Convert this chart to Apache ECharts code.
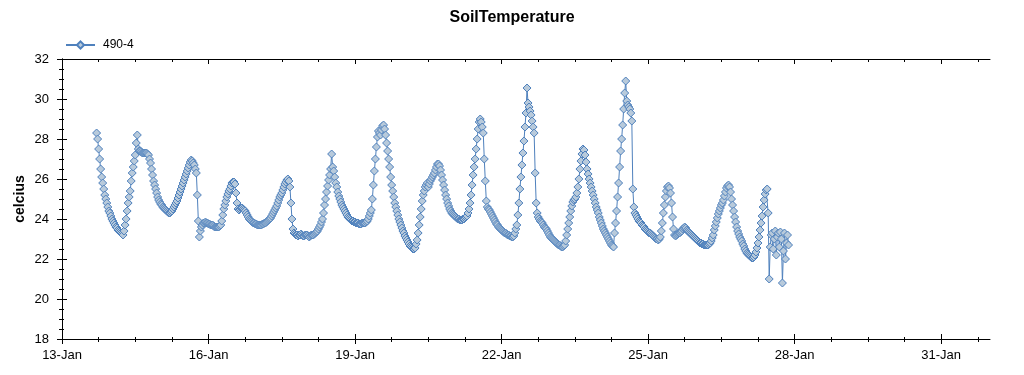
<!DOCTYPE html>
<html><head><meta charset="utf-8">
<script src="https://cdn.jsdelivr.net/npm/echarts@6/dist/echarts.min.js"></script>
<style>html,body{margin:0;padding:0;background:#fff}#c{width:1024px;height:375px}</style>
</head><body><div id="c"></div>
<script>
const chartTitle = 'SoilTemperature';
const seriesName = '490-4';
const yAxisName = 'celcius';
const xTickLabels = ['13-Jan','16-Jan','19-Jan','22-Jan','25-Jan','28-Jan','31-Jan'];
const yTickLabels = ['18','20','22','24','26','28','30','32'];
// readings every 30 minutes, first one at 13-Jan 17:00
const startHour = 17;
const stepMinutes = 30;
const temps = [
28.3,28.0,27.5,27.0,26.5,26.1,25.8,25.5,25.2,25.0,24.8,24.6,24.4,24.3,24.15,24.0,23.9,23.8,23.7,23.6,23.55,23.45,23.4,23.35,
23.3,23.25,23.2,23.4,23.7,24.0,24.4,24.8,25.1,25.4,25.9,26.3,26.6,26.9,27.2,27.8,28.2,27.5,27.4,27.4,27.35,27.3,27.3,27.3,
27.3,27.3,27.25,27.2,27.0,26.8,26.5,26.2,25.9,25.7,25.5,25.3,25.1,24.95,24.85,24.75,24.7,24.6,24.55,24.5,24.45,24.4,24.35,24.3,
24.3,24.35,24.4,24.5,24.6,24.7,24.8,24.9,25.05,25.2,25.35,25.5,25.65,25.8,25.95,26.1,26.25,26.4,26.55,26.7,26.85,26.95,26.9,26.8,
26.7,26.5,26.3,25.2,23.9,23.1,23.4,23.6,23.7,23.8,23.8,23.85,23.8,23.8,23.75,23.75,23.7,23.7,23.7,23.65,23.6,23.6,23.6,23.6,
23.6,23.65,23.7,23.9,24.2,24.5,24.7,24.9,25.1,25.25,25.4,25.5,25.65,25.8,25.85,25.85,25.75,25.3,24.8,24.5,24.45,24.5,24.55,24.55,
24.5,24.45,24.4,24.3,24.2,24.1,24.0,23.95,23.9,23.85,23.8,23.8,23.75,23.75,23.7,23.7,23.7,23.7,23.7,23.75,23.75,23.8,23.8,23.85,
23.9,23.95,24.0,24.05,24.15,24.25,24.35,24.45,24.55,24.65,24.8,24.95,25.1,25.2,25.3,25.45,25.6,25.75,25.85,25.95,26.0,25.9,25.6,24.8,
24.0,23.5,23.3,23.25,23.2,23.2,23.15,23.2,23.2,23.25,23.2,23.15,23.15,23.2,23.2,23.2,23.15,23.1,23.15,23.2,23.2,23.2,23.25,23.3,
23.35,23.4,23.5,23.6,23.7,23.85,24.0,24.3,24.7,25.0,25.35,25.65,25.95,26.2,26.5,27.25,26.6,26.4,26.1,25.8,25.6,25.35,25.15,25.0,
24.85,24.7,24.6,24.5,24.4,24.3,24.2,24.1,24.05,24.0,23.95,23.9,23.9,23.85,23.85,23.8,23.8,23.8,23.75,23.75,23.75,23.8,23.8,23.8,
23.8,23.85,23.9,24.0,24.15,24.3,24.45,25.0,25.7,26.4,27.0,27.6,28.1,28.4,28.3,28.2,28.45,28.65,28.7,28.5,28.2,27.8,27.4,27.0,
26.6,26.1,25.7,25.4,25.1,24.8,24.6,24.4,24.2,24.0,23.85,23.7,23.55,23.4,23.3,23.15,23.05,22.95,22.85,22.75,22.65,22.6,22.55,22.5,
22.5,22.55,22.75,22.95,23.3,23.7,24.1,24.5,24.9,25.2,25.4,25.6,25.7,25.8,25.6,25.75,25.9,26.0,26.1,26.2,26.3,26.45,26.6,26.75,
26.75,26.65,26.45,26.2,25.95,25.7,25.45,25.2,25.0,24.8,24.65,24.5,24.4,24.3,24.25,24.2,24.15,24.1,24.05,24.0,24.0,23.95,23.95,23.95,
24.0,24.0,24.05,24.1,24.15,24.3,24.5,24.8,25.2,25.7,26.2,26.6,27.0,27.5,28.0,28.5,28.85,29.0,28.85,28.6,28.3,27.0,25.9,24.9,
24.6,24.5,24.45,24.35,24.25,24.15,24.05,23.95,23.85,23.75,23.7,23.6,23.55,23.5,23.45,23.4,23.35,23.3,23.3,23.25,23.2,23.2,23.15,23.15,
23.1,23.1,23.15,23.3,23.5,23.7,24.2,24.8,25.5,26.1,26.7,27.3,27.9,28.6,29.3,30.55,29.8,29.6,29.4,29.2,28.9,28.6,28.3,26.3,
24.8,24.3,24.1,24.0,23.9,23.85,23.8,23.7,23.6,23.55,23.5,23.4,23.3,23.2,23.1,23.05,23.0,22.95,22.9,22.85,22.8,22.75,22.7,22.7,
22.65,22.6,22.6,22.65,22.7,22.9,23.2,23.5,23.8,24.1,24.4,24.65,24.85,24.95,25.0,25.1,25.3,25.6,26.0,26.5,26.9,27.25,27.5,27.45,
27.2,26.85,26.5,26.25,26.0,25.8,25.6,25.4,25.2,25.0,24.8,24.6,24.45,24.3,24.1,23.95,23.8,23.65,23.5,23.4,23.3,23.2,23.1,23.0,
22.9,22.8,22.7,22.65,22.6,23.3,23.8,24.4,25.1,25.8,26.6,27.4,28.0,28.7,29.5,30.3,30.9,29.9,29.7,29.6,29.5,29.3,28.9,25.5,
24.6,24.3,24.2,24.1,24.0,23.9,23.85,23.8,23.7,23.65,23.6,23.5,23.45,23.4,23.35,23.3,23.3,23.25,23.2,23.15,23.1,23.05,23.0,23.0,
22.95,23.0,23.1,23.4,23.8,24.3,24.7,25.1,25.4,25.6,25.65,25.55,25.3,24.8,24.1,23.5,23.2,23.15,23.2,23.25,23.3,23.3,23.35,23.4,
23.5,23.55,23.6,23.55,23.45,23.4,23.35,23.3,23.25,23.2,23.15,23.1,23.05,23.0,22.95,22.9,22.85,22.8,22.8,22.75,22.75,22.7,22.7,22.7,
22.7,22.7,22.75,22.8,22.9,23.05,23.2,23.45,23.65,23.85,24.05,24.25,24.4,24.55,24.7,24.8,24.95,25.15,25.35,25.55,25.65,25.7,25.6,25.35,
25.0,24.7,24.4,24.1,23.85,23.6,23.4,23.25,23.1,23.0,22.9,22.75,22.65,22.5,22.4,22.3,22.25,22.2,22.15,22.1,22.05,22.05,22.1,22.2,
22.35,22.55,22.8,23.1,23.45,23.8,24.15,24.6,24.95,25.25,25.45,25.5,24.3,21.0,22.6,23.2,23.3,22.5,23.0,23.4,22.2,23.1,23.3,22.6,
23.35,23.0,20.8,22.4,23.3,22.0,22.8,23.2,22.7
];

// x = days since 13-Jan 00:00
const X_MIN = 0, X_MAX = 19, X_STEP = 3, X_MINOR = 0.75;
const Y_MIN = 18, Y_MAX = 32, Y_STEP = 2, Y_MINOR = 0.5;
const FONT = 'Liberation Sans, Arial, sans-serif';

const seriesData = temps.map((v, i) => [(startHour + i * stepMinutes / 60) / 24, v]);

const xMajor = xTickLabels.map((_, i) => X_MIN + i * X_STEP);
const xMinorVals = [];
for (let k = 1; k * X_MINOR < X_MAX; k++) { const v = k * X_MINOR; if (Math.abs(v / X_STEP - Math.round(v / X_STEP)) > 1e-9) xMinorVals.push(v); }
const yMajor = yTickLabels.map(Number);
const yMinorVals = [];
for (let k = 1; Y_MIN + k * Y_MINOR < Y_MAX; k++) { const v = Y_MIN + k * Y_MINOR; if (Math.abs((v - Y_MIN) / Y_STEP - Math.round((v - Y_MIN) / Y_STEP)) > 1e-9) yMinorVals.push(v); }

function ax(dim, pos, ticks, inside, len, showLine, labels) {
  const o = {
    type: 'value', position: pos,
    min: dim === 'x' ? X_MIN : Y_MIN, max: dim === 'x' ? X_MAX : Y_MAX,
    interval: dim === 'x' ? X_STEP : Y_STEP,
    splitLine: { show: false },
    axisLine: { show: showLine, lineStyle: { color: '#000', width: 1 } },
    axisTick: { show: true, inside: inside, length: len, customValues: ticks, lineStyle: { color: '#000', width: 1 } },
    axisLabel: { show: false, customValues: ticks },
    silent: true
  };
  if (labels) {
    o.axisLabel = {
      show: true, customValues: ticks, color: '#000', fontSize: 13, fontFamily: FONT,
      margin: dim === 'x' ? 10 : 13,
      formatter: dim === 'x' ? (v) => xTickLabels[Math.round((v - X_MIN) / X_STEP)] : (v) => yTickLabels[Math.round((v - Y_MIN) / Y_STEP)]
    };
  }
  return o;
}

const xAxes = [
  ax('x', 'bottom', xMajor, false, 5, true, true),
  ax('x', 'bottom', xMajor, true, 5, false, false),
  ax('x', 'bottom', xMinorVals, false, 3, false, false),
  ax('x', 'bottom', xMinorVals, true, 2, false, false),
  ax('x', 'top', xMajor, true, 5, true, false),
  ax('x', 'top', xMinorVals, true, 3, false, false)
];
const yAxes = [
  ax('y', 'left', yMajor, false, 5, true, true),
  ax('y', 'left', yMajor, true, 5, false, false),
  ax('y', 'left', yMinorVals, false, 3, false, false),
  ax('y', 'left', yMinorVals, true, 2, false, false),
  ax('y', 'right', yMajor, true, 5, true, false),
  ax('y', 'right', yMinorVals, true, 3, false, false)
];
Object.assign(yAxes[0], {
  name: yAxisName, nameLocation: 'middle', nameGap: 35, nameRotate: 90, nameMoveOverlap: false,
  nameTextStyle: { color: '#000', fontSize: 14, fontWeight: 'bold', fontFamily: FONT }
});

const chart = echarts.init(document.getElementById('c'), null, { renderer: 'canvas' });
chart.setOption({
  animation: false,
  backgroundColor: '#fff',
  title: {
    text: chartTitle, left: 'center', top: 10, padding: 0,
    textStyle: { color: '#000', fontSize: 16, fontWeight: 'bold', fontFamily: FONT }
  },
  legend: {
    left: 65, top: 39, padding: 0, itemWidth: 29, itemHeight: 9,
    data: [seriesName],
    textStyle: { color: '#000', fontSize: 12, fontFamily: FONT, padding: [0, 0, 0, 3] }
  },
  grid: { left: 62, right: 34, top: 59, bottom: 36, containLabel: false },
  xAxis: xAxes,
  yAxis: yAxes,
  series: [{
    name: seriesName, type: 'line', xAxisIndex: 0, yAxisIndex: 0,
    data: seriesData,
    showSymbol: true, showAllSymbol: true, symbol: 'diamond', symbolSize: 8,
    itemStyle: { color: '#b8cadb', borderColor: '#4f81bd', borderWidth: 1 },
    lineStyle: { color: '#4f81bd', width: 1 },
    emphasis: { disabled: true },
    sampling: null, clip: true
  }]
});
</script>
</body></html>
